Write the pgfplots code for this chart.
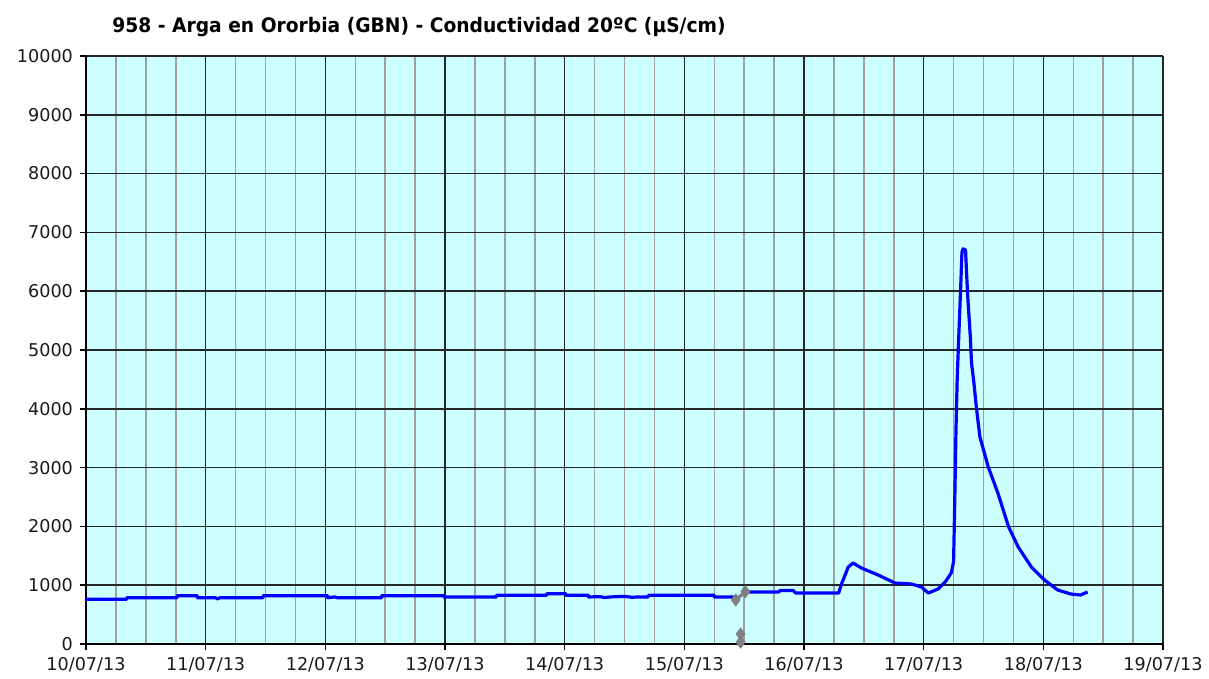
\documentclass[border=0pt]{standalone}
\usepackage{fontspec}
\setmainfont{DejaVu Sans}
\usepackage{pgfplots}
\pgfplotsset{compat=1.18}
\definecolor{bgcyan}{RGB}{204,255,255}
\definecolor{ser}{RGB}{0,0,255}
\definecolor{mgray}{RGB}{160,160,160}
\definecolor{mkgray}{RGB}{128,128,128}
\begin{document}
\begin{tikzpicture}
\path[use as bounding box] (-43pt,-17.5pt) rectangle (561.5pt,322pt);
\begin{axis}[
 at={(0,0)}, anchor=south west,
 scale only axis, width=538.5pt, height=294pt,
 xmin=0, xmax=9, ymin=0, ymax=10000,
 xtick={0,1,2,3,4,5,6,7,8,9},
 xticklabels={10/07/13,11/07/13,12/07/13,13/07/13,14/07/13,15/07/13,16/07/13,17/07/13,18/07/13,19/07/13},
 minor x tick num=3,
 ytick={0,1000,2000,3000,4000,5000,6000,7000,8000,9000,10000},
 grid=both,
 major grid style={line width=0.8pt, color=black!85},
 minor grid style={line width=0.75pt, color=mgray},
 axis background/.style={fill=bgcyan},
 axis x line*=bottom, axis y line*=left,
 axis line style={line width=0.8pt, black, -},
 tick align=outside, major tick length=3pt, minor tick length=0pt,
 tick style={black, line width=0.8pt},
 scaled y ticks=false,
 /pgf/number format/1000 sep={},
 /pgf/number format/assume math mode=true,
 ticklabel style={font=\fontsize{8.8}{10}\selectfont, text=black!90},
]
\addplot[ser, line width=1.6pt, line join=round] coordinates {
(0,760) (0.34,760) (0.34,787) (0.76,787) (0.76,821) (0.93,821) (0.93,787)
(1.08,787) (1.10,768) (1.12,787) (1.48,787) (1.48,821) (2.02,821) (2.02,787)
(2.08,800) (2.10,787) (2.47,787) (2.47,821) (2.99,821) (2.99,800) (3.43,800)
(3.43,828) (3.85,828) (3.85,856) (4.01,856) (4.01,828) (4.20,828) (4.20,800)
(4.30,805) (4.33,790) (4.38,800) (4.50,810) (4.56,795) (4.62,800) (4.70,800)
(4.70,828) (5.25,828) (5.25,800) (5.42,800)
};
\addplot[ser, line width=1.6pt, line join=round] coordinates {
(5.52,884) (5.79,884) (5.80,910) (5.91,910) (5.93,867) (6.12,867) (6.29,867)
(6.31,1003) (6.37,1310) (6.41,1377) (6.48,1292) (6.62,1173) (6.76,1037)
(6.90,1020) (6.98,969) (7.04,867) (7.12,935) (7.18,1054) (7.23,1207)
(7.25,1400) (7.26,2449) (7.27,3639) (7.28,4490) (7.29,5051) (7.31,6105)
(7.32,6667) (7.33,6720) (7.35,6700) (7.36,6241) (7.37,5850) (7.39,5221)
(7.40,4779) (7.42,4439) (7.44,4031) (7.47,3520) (7.54,3010) (7.62,2568)
(7.71,1990) (7.79,1650) (7.90,1310) (8.01,1088) (8.12,918) (8.23,850)
(8.31,833) (8.37,884)
};
\addplot[mkgray, line width=1.6pt, mark=diamond*, mark size=2pt] coordinates {
(5.43,750) (5.51,890)
};
\addplot[mkgray, line width=1.6pt, mark=diamond*, mark size=2pt] coordinates {
(5.47,170) (5.47,30)
};
\end{axis}
\node[anchor=base west, inner sep=0pt, font=\bfseries\fontsize{10}{12}\selectfont] at (13pt,305.5pt)
 {\scalebox{0.934}[1]{958 - Arga en Ororbia (GBN) - Conductividad 20ºC (µS/cm)}};
\end{tikzpicture}
\end{document}
